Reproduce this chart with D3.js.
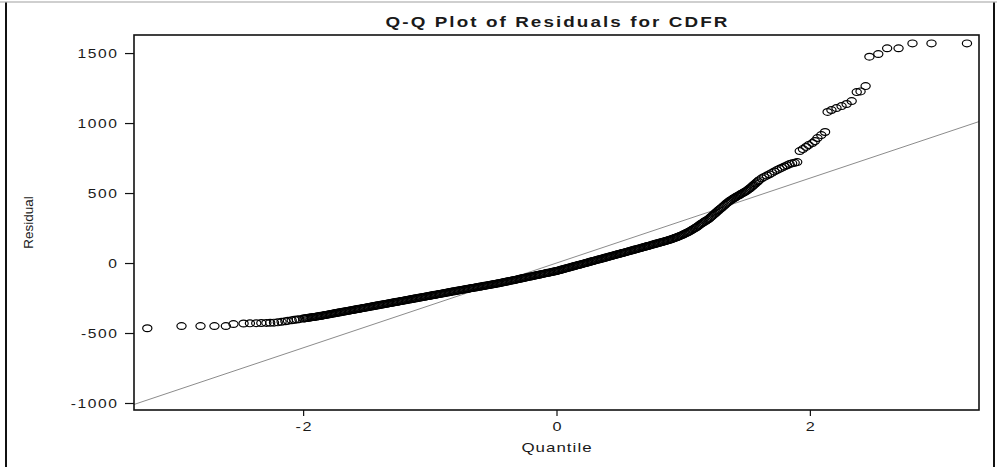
<!DOCTYPE html>
<html>
<head>
<meta charset="utf-8">
<script src="https://cdn.jsdelivr.net/npm/d3@7/dist/d3.min.js"></script>
<style>
  body { margin: 0; background: #fff; }
  svg text { font-family: "Liberation Sans", Arial, sans-serif; fill: #1a1a1a; }
</style>
</head>
<body>
<svg id="chart" width="997" height="467"></svg>
<script>
// normal quantile (x) and sorted residual (y)
var quantiles = [
  -3.23,-2.96,-2.81,-2.70,-2.61,-2.55,-2.47,-2.42,-2.37,-2.33,-2.29,-2.26,-2.23,-2.20,-2.17,-2.14,-2.12,-2.09,-2.07,-2.05,-2.03,
  -2.00,-1.99,-1.98,-1.97,-1.96,-1.95,-1.94,-1.93,-1.92,-1.91,
  -1.90,-1.89,-1.88,-1.87,-1.86,-1.85,-1.84,-1.83,-1.82,-1.81,
  -1.80,-1.79,-1.78,-1.77,-1.76,-1.75,-1.74,-1.73,-1.72,-1.71,
  -1.70,-1.69,-1.68,-1.67,-1.66,-1.65,-1.64,-1.63,-1.62,-1.61,
  -1.60,-1.59,-1.58,-1.57,-1.56,-1.55,-1.54,-1.53,-1.52,-1.51,
  -1.50,-1.49,-1.48,-1.47,-1.46,-1.45,-1.44,-1.43,-1.42,-1.41,
  -1.40,-1.39,-1.38,-1.37,-1.36,-1.35,-1.34,-1.33,-1.32,-1.31,
  -1.30,-1.29,-1.28,-1.27,-1.26,-1.25,-1.24,-1.23,-1.22,-1.21,
  -1.20,-1.19,-1.18,-1.17,-1.16,-1.15,-1.14,-1.13,-1.12,-1.11,
  -1.10,-1.09,-1.08,-1.07,-1.06,-1.05,-1.04,-1.03,-1.02,-1.01,
  -1.00,-0.99,-0.98,-0.97,-0.96,-0.95,-0.94,-0.93,-0.92,-0.91,
  -0.90,-0.89,-0.88,-0.87,-0.86,-0.85,-0.84,-0.83,-0.82,-0.81,
  -0.80,-0.79,-0.78,-0.77,-0.76,-0.75,-0.74,-0.73,-0.72,-0.71,
  -0.70,-0.69,-0.68,-0.67,-0.66,-0.65,-0.64,-0.63,-0.62,-0.61,
  -0.60,-0.59,-0.58,-0.57,-0.56,-0.55,-0.54,-0.53,-0.52,-0.51,
  -0.50,-0.49,-0.48,-0.47,-0.46,-0.45,-0.44,-0.43,-0.42,-0.41,
  -0.40,-0.39,-0.38,-0.37,-0.36,-0.35,-0.34,-0.33,-0.32,-0.31,
  -0.30,-0.29,-0.28,-0.27,-0.26,-0.25,-0.24,-0.23,-0.22,-0.21,
  -0.20,-0.19,-0.18,-0.17,-0.16,-0.15,-0.14,-0.13,-0.12,-0.11,
  -0.10,-0.09,-0.08,-0.07,-0.06,-0.05,-0.04,-0.03,-0.02,-0.01,
  0.00,0.01,0.02,0.03,0.04,0.05,0.06,0.07,0.08,0.09,
  0.10,0.11,0.12,0.13,0.14,0.15,0.16,0.17,0.18,0.19,
  0.20,0.21,0.22,0.23,0.24,0.25,0.26,0.27,0.28,0.29,
  0.30,0.31,0.32,0.33,0.34,0.35,0.36,0.37,0.38,0.39,
  0.40,0.41,0.42,0.43,0.44,0.45,0.46,0.47,0.48,0.49,
  0.50,0.51,0.52,0.53,0.54,0.55,0.56,0.57,0.58,0.59,
  0.60,0.61,0.62,0.63,0.64,0.65,0.66,0.67,0.68,0.69,
  0.70,0.71,0.72,0.73,0.74,0.75,0.76,0.77,0.78,0.79,
  0.80,0.81,0.82,0.83,0.84,0.85,0.86,0.87,0.88,0.89,
  0.90,0.91,0.92,0.93,0.94,0.95,0.96,0.97,0.98,0.99,
  1.00,1.01,1.02,1.03,1.04,1.05,1.06,1.07,1.08,1.09,
  1.10,1.11,1.12,1.13,1.14,1.15,1.16,1.17,1.18,1.19,
  1.20,1.21,1.22,1.23,1.24,1.25,1.26,1.27,1.28,1.29,
  1.30,1.31,1.32,1.33,1.34,1.35,1.36,1.37,1.38,1.39,
  1.40,1.41,1.42,1.43,1.44,1.45,1.46,1.47,1.48,1.49,
  1.50,1.51,1.52,1.53,1.54,1.55,1.56,1.57,1.58,1.59,
  1.60,1.62,1.64,1.66,1.68,1.70,1.72,1.74,1.76,1.78,1.80,1.82,1.84,1.86,1.88,1.90,
  1.92,1.945,1.97,1.99,2.02,2.04,2.06,2.09,2.12,
  2.14,2.17,2.21,2.25,2.29,2.33,
  2.37,2.40,2.44,
  2.47,2.54,2.61,2.70,2.81,2.96,3.24
];

var residuals = [
  -466,-450,-450,-450,-450,-436,-432,-431,-430,-429,-428,-427,-426,-424,-420,-416,-413,-409,-406,-404,-401,
  -397,-396,-394,-393,-392,-390,-389,-387,-386,-385,
  -383,-382,-380,-379,-377,-376,-374,-372,-371,-369,
  -367,-366,-364,-362,-361,-359,-357,-356,-354,-352,
  -351,-349,-347,-346,-344,-342,-341,-339,-337,-336,
  -334,-332,-331,-329,-327,-326,-324,-322,-321,-319,
  -317,-316,-314,-312,-311,-309,-307,-306,-304,-302,
  -301,-299,-297,-296,-294,-292,-291,-289,-287,-286,
  -284,-282,-281,-279,-277,-276,-274,-272,-271,-269,
  -267,-266,-264,-262,-261,-259,-257,-256,-254,-252,
  -251,-249,-247,-246,-244,-242,-241,-239,-237,-236,
  -234,-232,-231,-229,-227,-226,-224,-222,-221,-219,
  -217,-216,-214,-212,-211,-209,-207,-205,-204,-202,
  -201,-199,-197,-196,-194,-192,-191,-189,-188,-186,
  -184,-183,-181,-179,-178,-176,-175,-173,-171,-170,
  -168,-167,-165,-163,-162,-160,-158,-157,-155,-154,
  -152,-150,-149,-147,-145,-144,-142,-140,-138,-136,
  -134,-132,-130,-128,-126,-124,-123,-121,-119,-117,
  -115,-113,-111,-109,-107,-105,-103,-101,-99,-97,
  -96,-94,-92,-90,-88,-86,-84,-82,-80,-78,
  -76,-74,-72,-70,-69,-67,-65,-63,-61,-59,
  -57,-55,-52,-50,-47,-45,-42,-40,-37,-35,
  -32,-30,-27,-25,-22,-20,-17,-15,-13,-10,
  -8,-5,-3,0,2,5,7,10,12,15,
  17,20,22,25,27,29,32,34,37,39,
  42,44,47,49,52,54,57,59,62,64,
  66,69,71,74,76,79,81,84,86,89,
  91,94,96,99,101,104,106,109,111,114,
  116,119,121,124,126,129,132,134,137,139,
  142,144,147,149,152,154,157,160,162,165,
  168,171,174,178,181,184,188,192,195,199,
  203,208,212,217,221,226,231,237,242,248,
  253,259,266,272,279,285,291,297,302,308,
  314,321,329,337,345,353,361,369,377,385,
  392,400,408,416,424,431,438,445,451,457,
  463,468,474,479,484,489,495,500,505,510,
  516,522,529,536,544,552,560,568,576,584,
  592,605,615,625,634,644,654,664,673,681,690,698,707,712,716,721,
  800,814,829,843,857,871,893,914,936,
  1079,1093,1107,1121,1136,1157,
  1221,1226,1264,
  1474,1493,1534,1534,1569,1569,1569
];

// normal reference line: intercept (mean) and slope (std dev)
var refIntercept = 0;
var refSlope = 303;

var xTicks = [-2, 0, 2];
var yTicks = [-1000, -500, 0, 500, 1000, 1500];
var xDomain = [-3.335, 3.335];
var yDomain = [-1050, 1629];

var chartTitle = "Q-Q Plot of Residuals for CDFR";
var xLabel = "Quantile";
var yLabel = "Residual";

var svg = d3.select("#chart");
var W = 997, H = 467;
var plot = {left: 134, top: 35, right: 979, bottom: 410};
var stretch = 1.3; // the source picture is widened horizontally

var x = d3.scaleLinear().domain(xDomain).range([plot.left, plot.right]);
var y = d3.scaleLinear().domain(yDomain).range([plot.bottom, plot.top]);

// outer frame
svg.append("line").attr("x1", 0).attr("x2", W).attr("y1", 2).attr("y2", 2)
  .attr("stroke", "#a0a0a0").attr("stroke-width", 1.2);
svg.append("line").attr("x1", 6).attr("x2", 6).attr("y1", 2.5).attr("y2", H)
  .attr("stroke", "#111").attr("stroke-width", 2);
svg.append("line").attr("x1", 994).attr("x2", 994).attr("y1", 2.5).attr("y2", H)
  .attr("stroke", "#111").attr("stroke-width", 2);

// reference line
svg.append("line")
  .attr("x1", x(xDomain[0])).attr("y1", y(refIntercept + refSlope * xDomain[0]))
  .attr("x2", x(xDomain[1])).attr("y2", y(refIntercept + refSlope * xDomain[1]))
  .attr("stroke", "#8c8c8c").attr("stroke-width", 1);

// points
var pts = d3.zip(quantiles, residuals);
svg.append("g").selectAll("ellipse").data(pts).enter().append("ellipse")
  .attr("cx", function (d) { return x(d[0]); })
  .attr("cy", function (d) { return y(d[1]); })
  .attr("rx", 4.6).attr("ry", 3.4)
  .attr("fill", "none").attr("stroke", "#000").attr("stroke-width", 1.2);

// plot frame
svg.append("rect")
  .attr("x", plot.left).attr("y", plot.top)
  .attr("width", plot.right - plot.left).attr("height", plot.bottom - plot.top)
  .attr("fill", "none").attr("stroke", "#111").attr("stroke-width", 1.6);

// y axis
var yAxis = svg.append("g").attr("transform", "translate(" + plot.left + ",0)")
  .call(d3.axisLeft(y).tickValues(yTicks).tickSize(9).tickFormat(function (d) { return String(d); }));
yAxis.select(".domain").remove();
yAxis.selectAll(".tick line").attr("stroke", "#111").attr("stroke-width", 1.2);
yAxis.selectAll(".tick text")
  .attr("x", -17 / stretch + 1.25)
  .attr("dy", "0.34em")
  .attr("transform", "scale(" + stretch + ",1)")
  .style("font-size", "12px")
  .style("letter-spacing", "1.25px")
  .attr("fill", "#1a1a1a");

// x axis
var xAxis = svg.append("g").attr("transform", "translate(0," + plot.bottom + ")")
  .call(d3.axisBottom(x).tickValues(xTicks).tickSize(6).tickPadding(6.5).tickFormat(function (d) { return String(d); }));
xAxis.select(".domain").remove();
xAxis.selectAll(".tick line").attr("stroke", "#111").attr("stroke-width", 1.2);
xAxis.selectAll(".tick text")
  .attr("transform", "scale(" + stretch + ",1)")
  .attr("dx", 0.6)
  .style("font-size", "12.5px")
  .style("letter-spacing", "1.25px")
  .attr("fill", "#1a1a1a");

// title
svg.append("g").attr("transform", "translate(" + ((plot.left + plot.right) / 2 + 1) + ",27)")
  .append("text")
  .attr("transform", "scale(" + stretch + ",1)")
  .attr("text-anchor", "middle")
  .style("font-size", "14.5px").style("font-weight", "bold")
  .style("letter-spacing", "1.6px")
  .text(chartTitle);

// axis labels
svg.append("g").attr("transform", "translate(" + ((plot.left + plot.right) / 2 + 0.5) + ",452)")
  .append("text")
  .attr("transform", "scale(" + stretch + ",1)")
  .attr("text-anchor", "middle")
  .style("font-size", "13px")
  .style("letter-spacing", "0.8px")
  .text(xLabel);

svg.append("text")
  .attr("transform", "translate(33," + ((plot.top + plot.bottom) / 2) + ") rotate(-90)")
  .attr("text-anchor", "middle")
  .style("font-size", "13.5px")
  .text(yLabel);
</script>
</body>
</html>
